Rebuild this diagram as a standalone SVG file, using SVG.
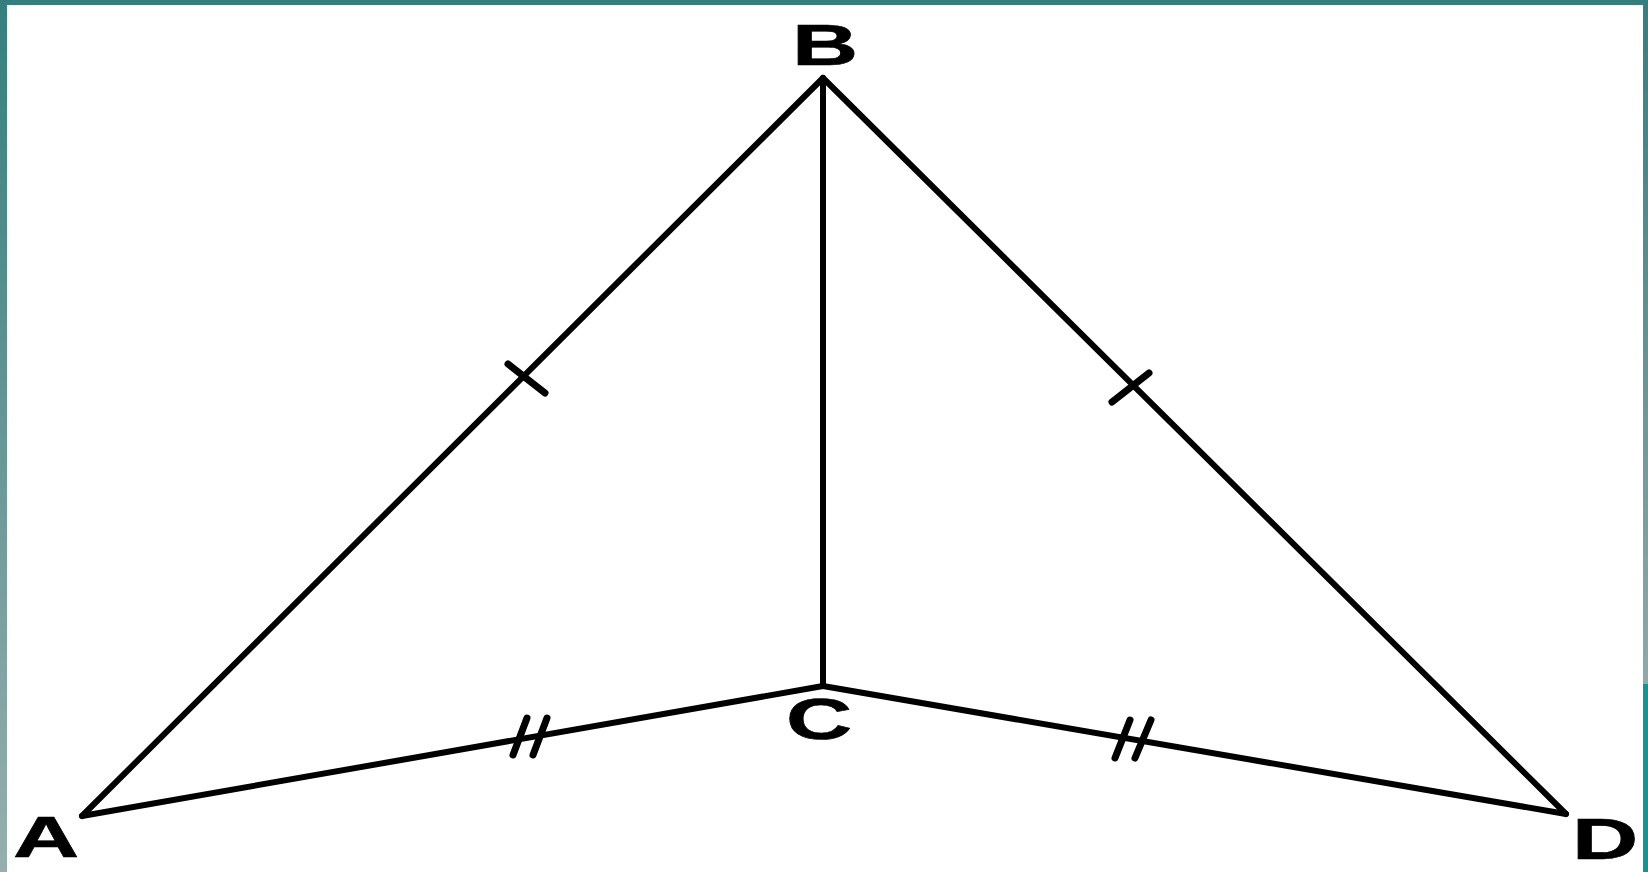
<svg xmlns="http://www.w3.org/2000/svg" width="1648" height="872" viewBox="0 0 1648 872">
<defs>
<linearGradient id="gl" x1="0" y1="0" x2="0" y2="1"><stop offset="0" stop-color="#347f7e"/><stop offset="1" stop-color="#98aeae"/></linearGradient>
<linearGradient id="gr" x1="0" y1="0" x2="0" y2="1"><stop offset="0" stop-color="#347f7e"/><stop offset="1" stop-color="#90a9a9"/></linearGradient>
</defs>
<style>
.e{stroke:#000;stroke-width:6;stroke-linecap:round;fill:none}
.t{stroke:#000;stroke-width:7;stroke-linecap:round;fill:none}
.l{font-family:"Liberation Sans",Arial,sans-serif;font-weight:bold;font-size:58px;fill:#000;stroke:#000;stroke-width:0.6;text-anchor:middle}
</style>
<rect x="0" y="0" width="1648" height="872" fill="#ffffff"/>
<rect x="0" y="0" width="1648" height="5" fill="#347f7e"/>
<rect x="0" y="0" width="7" height="872" fill="url(#gl)"/>
<rect x="1643" y="0" width="5" height="684" fill="url(#gr)"/>
<rect x="1643" y="684" width="5" height="188" fill="#0e9595"/>
<g id="connectors">
<line class="e" x1="82" y1="816" x2="823" y2="78"/>
<line class="e" x1="823" y1="78" x2="1566" y2="814"/>
<line class="e" x1="823" y1="78" x2="823" y2="686"/>
<line class="e" x1="82" y1="816" x2="823" y2="686"/>
<line class="e" x1="823" y1="686" x2="1566" y2="814"/>
<line class="t" x1="508" y1="364" x2="545" y2="393"/>
<line class="t" x1="1112" y1="402" x2="1149" y2="373"/>
<line class="t" x1="513" y1="755" x2="527" y2="718"/>
<line class="t" x1="533" y1="755" x2="547" y2="718"/>
<line class="t" x1="1115" y1="758" x2="1130" y2="720"/>
<line class="t" x1="1135" y1="758" x2="1151" y2="720"/>
</g>
<g id="B"><text class="l" transform="translate(825,65) scale(1.58,1)">B</text></g>
<g id="A"><text class="l" transform="translate(46,857) scale(1.58,1)">A</text></g>
<g id="C"><text class="l" transform="translate(819,739) scale(1.58,1)">C</text></g>
<g id="D"><text class="l" transform="translate(1605,859) scale(1.58,1)">D</text></g>
</svg>
